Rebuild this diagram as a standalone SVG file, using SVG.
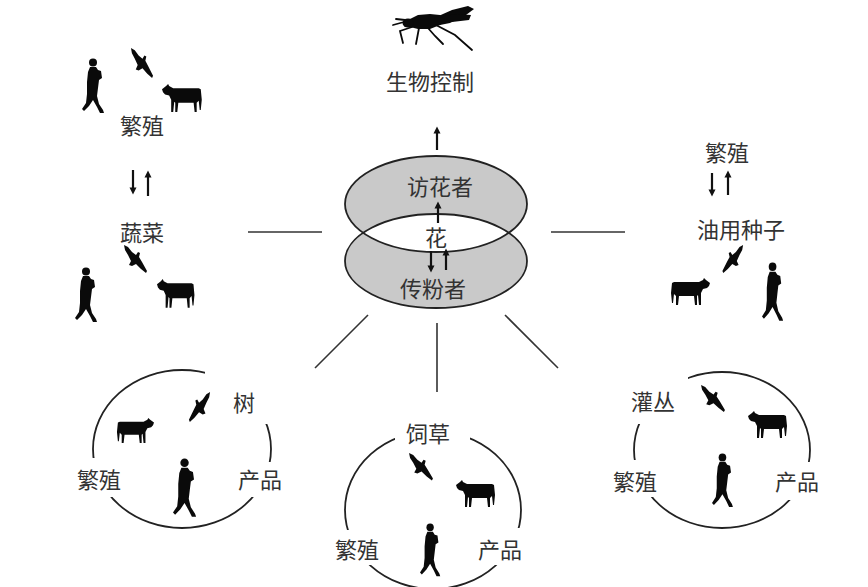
<svg xmlns="http://www.w3.org/2000/svg" xmlns:xlink="http://www.w3.org/1999/xlink" width="868" height="587" viewBox="0 0 868 587">
  <style>
    .lbl { font-family: "Noto Sans CJK SC", "Noto Sans", sans-serif; font-size: 22px; fill: #333; text-anchor: middle; dominant-baseline: central; }
    .link { stroke: #333; stroke-width: 1.6; fill: none; }
    .ring { stroke: #222; stroke-width: 1.8; fill: none; }
    .arr { stroke: #111; stroke-width: 2.2; fill: none; marker-end: url(#head); }
    .sil { fill: #0a0a0a; }
    .gap { fill: #fff; }
  </style>
  <defs>
    <marker id="head" viewBox="0 0 10 10" refX="5" refY="5" markerWidth="3.2" markerHeight="3.2" orient="auto">
      <path d="M0,0 L10,5 L0,10 Z" fill="#111"/>
    </marker>
    <!-- walking figure, faces right -->
    <g id="person" class="sil">
      <circle cx="11" cy="4.5" r="4"/>
      <path d="M8,9 L14,9 L16,12 L19,13 L20,20 L17,22 L16,30 L15,38 L17,46 L21,52 L22,55 L18,55 L15,49 L11,42 L7,48 L2,53 L0,51 L4,45 L5,36 L5,24 L6,14 Z"/>
    </g>
    <!-- cow, head on the left -->
    <path id="cow" class="sil" d="M0,6 L4,3 L6,1 L7,3 L11,5 L36,5 L38,6 L39,16 L38,26 L37,26 L36,17 L34,19 L34,28 L32,28 L31,19 L16,19 L15,28 L13,28 L13,19 L12,18 L11,28 L9,28 L9,16 L7,12 L3,11 L1,9 Z"/>
    <!-- soaring bird, wings from upper left to lower right -->
    <path id="bird" class="sil" d="M1,0 L5,2 L9,7 L13,10 L15,7 L17,8 L16,12 L19,17 L24,26 L23,28 L18,24 L13,19 L9,21 L6,20 L8,16 L5,10 L2,5 Z"/>
    <clipPath id="lowerClip">
      <ellipse cx="436" cy="261" rx="91" ry="47"/>
    </clipPath>
  </defs>

  <rect width="868" height="587" fill="#fff"/>

  <!-- connectors -->
  <g id="connectors">
    <line class="link" x1="248" y1="232" x2="322" y2="232"/>
    <line class="link" x1="551" y1="232" x2="625" y2="232"/>
    <line class="link" x1="368" y1="315" x2="315" y2="368"/>
    <line class="link" x1="437" y1="323" x2="437" y2="392"/>
    <line class="link" x1="505" y1="315" x2="558" y2="368"/>
  </g>

  <!-- biological control -->
  <g id="biocontrol">
    <g class="sil">
      <path d="M410,19 L418,15 L430,14 L440,15 L447,19 L440,25 L430,29 L418,29 L410,27 Z"/>
      <path d="M434,18 L452,10 L468,6 L474,9 L466,15 L450,23 L440,25 Z"/>
      <path d="M440,17 L456,14 L471,15 L469,20 L452,22 Z"/>
      <ellipse cx="408" cy="23" rx="5.5" ry="4.5"/>
    </g>
    <g stroke="#0a0a0a" stroke-width="1.8" fill="none" stroke-linecap="round">
      <path d="M404,22 L393,25"/>
      <path d="M405,20 L396,19"/>
      <path d="M412,27 L400,31 L403,43"/>
      <path d="M419,28 L416,44"/>
      <path d="M428,28 L435,36 L443,44"/>
      <path d="M436,25 L455,35 L472,50"/>
    </g>
    <text class="lbl" x="430" y="80">生物控制</text>
  </g>

  <!-- flowers, visitors and pollinators -->
  <g id="flower">
    <line class="arr" x1="437" y1="150" x2="437" y2="130"/>
    <ellipse cx="436" cy="261" rx="91" ry="47" fill="#c9c9c9"/>
    <ellipse cx="436" cy="204" rx="91" ry="48" fill="#c9c9c9"/>
    <ellipse cx="436" cy="204" rx="91" ry="48" fill="#fff" clip-path="url(#lowerClip)"/>
    <ellipse class="ring" cx="436" cy="261" rx="91" ry="47"/>
    <ellipse class="ring" cx="436" cy="204" rx="91" ry="48"/>
    <text class="lbl" x="440" y="185">访花者</text>
    <text class="lbl" x="436" y="236">花</text>
    <text class="lbl" x="433" y="287">传粉者</text>
    <line class="arr" x1="438" y1="223" x2="438" y2="205"/>
    <line class="arr" x1="431" y1="251" x2="431" y2="269"/>
    <line class="arr" x1="446" y1="270" x2="446" y2="252"/>
  </g>

  <!-- vegetables -->
  <g id="vegetables">
    <use xlink:href="#person" transform="translate(82,58)"/>
    <use xlink:href="#bird" transform="translate(130,48) scale(0.96,1.07)"/>
    <use xlink:href="#cow" transform="translate(162,83) scale(1.02,1.04)"/>
    <text class="lbl" x="142" y="124">繁殖</text>
    <line class="arr" x1="133" y1="170" x2="133" y2="191"/>
    <line class="arr" x1="148" y1="196" x2="148" y2="174"/>
    <text class="lbl" x="142" y="231">蔬菜</text>
    <use xlink:href="#person" transform="translate(75,267)"/>
    <use xlink:href="#bird" transform="translate(123,245)"/>
    <use xlink:href="#cow" transform="translate(157,278) scale(0.96,1.06)"/>
  </g>

  <!-- oil seeds -->
  <g id="oilseeds">
    <text class="lbl" x="727" y="151">繁殖</text>
    <line class="arr" x1="712" y1="173" x2="712" y2="193"/>
    <line class="arr" x1="728" y1="195" x2="728" y2="174"/>
    <text class="lbl" x="741" y="228">油用种子</text>
    <use xlink:href="#bird" transform="translate(744,245) scale(-0.9,1)"/>
    <use xlink:href="#cow" transform="translate(710,277) scale(-1,1)"/>
    <use xlink:href="#person" transform="translate(762,262) scale(0.96,1.07)"/>
  </g>

  <!-- trees -->
  <g id="trees">
    <ellipse class="ring" cx="182" cy="449" rx="89" ry="79"/>
    <rect class="gap" x="205" y="364" width="72" height="60"/>
    <rect class="gap" x="68" y="458" width="60" height="39"/>
    <rect class="gap" x="236" y="462" width="56" height="35"/>
    <text class="lbl" x="244" y="401">树</text>
    <text class="lbl" x="99" y="478">繁殖</text>
    <text class="lbl" x="260" y="478">产品</text>
    <use xlink:href="#cow" transform="translate(154,417) scale(-0.95,0.93)"/>
    <use xlink:href="#bird" transform="translate(211,392) scale(-0.92,1.07)"/>
    <use xlink:href="#person" transform="translate(173,458) scale(1.05,1.07)"/>
  </g>

  <!-- forage -->
  <g id="forage">
    <ellipse class="ring" cx="433" cy="510" rx="88" ry="79"/>
    <rect class="gap" x="395" y="416" width="75" height="30"/>
    <rect class="gap" x="330" y="530" width="55" height="35"/>
    <rect class="gap" x="475" y="528" width="55" height="37"/>
    <text class="lbl" x="428" y="432">饲草</text>
    <text class="lbl" x="357" y="548">繁殖</text>
    <text class="lbl" x="500" y="548">产品</text>
    <use xlink:href="#bird" transform="translate(408,453) scale(1.04,0.98)"/>
    <use xlink:href="#cow" transform="translate(456,479)"/>
    <use xlink:href="#person" transform="translate(420,523) scale(0.92,0.97)"/>
  </g>

  <!-- shrubs -->
  <g id="shrubs">
    <ellipse class="ring" cx="722" cy="450" rx="88" ry="78"/>
    <rect class="gap" x="618" y="372" width="70" height="52"/>
    <rect class="gap" x="605" y="460" width="60" height="37"/>
    <rect class="gap" x="772" y="462" width="58" height="38"/>
    <text class="lbl" x="653" y="400">灌丛</text>
    <text class="lbl" x="635" y="480">繁殖</text>
    <text class="lbl" x="797" y="480">产品</text>
    <use xlink:href="#bird" transform="translate(700,385) scale(1.04,0.96)"/>
    <use xlink:href="#cow" transform="translate(748,410)"/>
    <use xlink:href="#person" transform="translate(712,453) scale(0.95,0.98)"/>
  </g>
</svg>
